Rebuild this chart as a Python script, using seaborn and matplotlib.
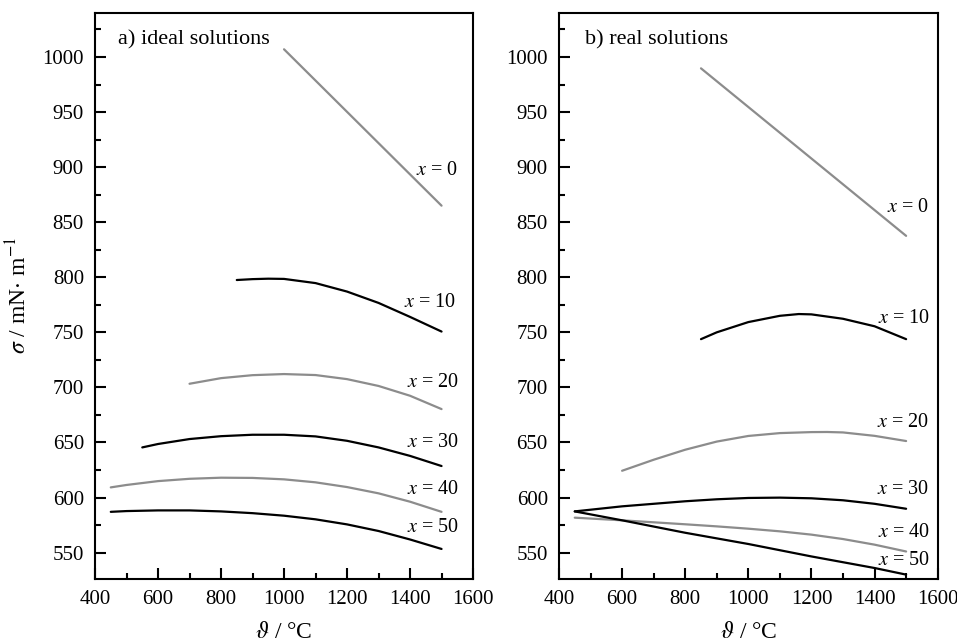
import matplotlib
matplotlib.use('Agg')
import matplotlib.pyplot as plt
import seaborn as sns
from matplotlib.ticker import MultipleLocator

# ---------------- data ----------------
# a) ideal solutions
a_t0 = [1000, 1500]
a_s0 = [1007, 865]
a_t10 = [850, 900, 950, 1000, 1100, 1200, 1300, 1400, 1500]
a_s10 = [797.5, 798.3, 798.7, 798.5, 794.7, 787, 776.7, 764, 750.7]
a_t20 = [700, 800, 900, 1000, 1100, 1200, 1300, 1400, 1500]
a_s20 = [703.3, 708.4, 711.1, 712.1, 711.2, 707.5, 701.3, 692.4, 680.3]
a_t30 = [550, 600, 700, 800, 900, 1000, 1100, 1200, 1300, 1400, 1500]
a_s30 = [645.5, 648.6, 653.1, 655.7, 657, 657, 655.5, 651.5, 645.5, 637.8, 628.6]
a_t40 = [450, 500, 600, 700, 800, 900, 1000, 1100, 1200, 1300, 1400, 1500]
a_s40 = [609.2, 611.4, 614.9, 617, 618, 617.8, 616.5, 613.8, 609.5, 603.8, 596.2, 587]
a_t50 = [450, 500, 600, 700, 800, 900, 1000, 1100, 1200, 1300, 1400, 1500]
a_s50 = [587, 587.7, 588.3, 588.3, 587.4, 585.8, 583.5, 580.2, 575.6, 569.6, 561.9, 553.3]

# b) real solutions
b_t0 = [850, 1500]
b_s0 = [989.7, 837.6]
b_t10 = [850, 900, 1000, 1100, 1160, 1200, 1300, 1400, 1500]
b_s10 = [743.8, 750, 759.3, 765, 766.6, 766.3, 762.3, 755.5, 743.8]
b_t20 = [600, 700, 800, 900, 1000, 1100, 1200, 1250, 1300, 1400, 1500]
b_s20 = [624.3, 634.3, 643.4, 650.8, 655.9, 658.5, 659.4, 659.5, 659.1, 656, 651.3]
b_t30 = [450, 600, 700, 800, 900, 1000, 1100, 1200, 1300, 1400, 1500]
b_s30 = [587.4, 592, 594.3, 596.6, 598.4, 599.6, 599.9, 599.3, 597.5, 594.3, 589.8]
b_t40 = [450, 600, 700, 800, 900, 1000, 1100, 1200, 1300, 1400, 1500]
b_s40 = [581.7, 579.3, 577.5, 575.7, 573.8, 571.7, 569.3, 566.3, 562.3, 557.2, 551]
b_t50 = [450, 600, 800, 1000, 1200, 1400, 1500]
b_s50 = [587.4, 579.3, 568, 557.8, 546.5, 536, 530]

compositions = ['0', '10', '20', '30', '40', '50']
panel_titles = ['a) ideal solutions', 'b) real solutions']

GRAY = '#8c8c8c'
BLACK = '#000000'
line_colors = [GRAY, BLACK, GRAY, BLACK, GRAY, BLACK]

# label anchor (data coords) for each curve label
a_label_pos = [(1487, 897), (1463, 777), (1473, 704), (1473, 650), (1473, 607), (1473, 573)]
b_label_pos = [(1505, 863), (1494, 763), (1492, 668), (1492, 607), (1495, 568), (1495, 543)]

sns.set_theme(style='ticks')
plt.rcParams['font.family'] = ['Liberation Serif', 'DejaVu Serif']
plt.rcParams['mathtext.fontset'] = 'stix'
plt.rcParams['text.color'] = 'black'
plt.rcParams['axes.labelcolor'] = 'black'
plt.rcParams['xtick.color'] = 'black'
plt.rcParams['ytick.color'] = 'black'

fig = plt.figure(figsize=(9.57, 6.44), dpi=100)
ax_a = fig.add_axes([0.0993, 0.1009, 0.395, 0.879])
ax_b = fig.add_axes([0.5841, 0.1009, 0.3957, 0.879])

panels = [
    (ax_a, [(a_t0, a_s0), (a_t10, a_s10), (a_t20, a_s20), (a_t30, a_s30), (a_t40, a_s40), (a_t50, a_s50)], a_label_pos),
    (ax_b, [(b_t0, b_s0), (b_t10, b_s10), (b_t20, b_s20), (b_t30, b_s30), (b_t40, b_s40), (b_t50, b_s50)], b_label_pos),
]

for i, (ax, curves, label_pos) in enumerate(panels):
    for (t, s), c, comp, (lx, ly) in zip(curves, line_colors, compositions, label_pos):
        sns.lineplot(x=t, y=s, ax=ax, color=c, linewidth=1.6, legend=False)
        ax.text(lx, ly, r'$x$ = ' + comp, ha='center', va='center', fontsize=14.5)

    ax.set_xlim(400, 1600)
    ax.set_ylim(526, 1040)
    ax.xaxis.set_major_locator(MultipleLocator(200))
    ax.xaxis.set_minor_locator(MultipleLocator(100))
    ax.yaxis.set_major_locator(MultipleLocator(50))
    ax.yaxis.set_minor_locator(MultipleLocator(25))
    ax.set_yticks(range(550, 1001, 50))
    ax.tick_params(which='major', direction='in', length=8, width=1.5, labelsize=15, pad=8,
                   top=False, right=False)
    ax.tick_params(which='minor', direction='in', length=4, width=1.5, top=False, right=False)
    for sp in ax.spines.values():
        sp.set_visible(True)
        sp.set_linewidth(1.5)
        sp.set_color('black')
    ax.set_xlabel(r'$\vartheta$ / °C', fontsize=17, labelpad=9)
    ax.text(0.06 if i == 0 else 0.069, 0.953, panel_titles[i], transform=ax.transAxes,
            ha='left', va='center', fontsize=16)

ax_a.set_ylabel(r'$\sigma$ / mN$\cdot$ m$^{-1}$', fontsize=17)
ax_a.yaxis.set_label_coords(-0.168, 0.5)
ax_b.set_ylabel('')

fig.savefig('out.png', dpi=100)
